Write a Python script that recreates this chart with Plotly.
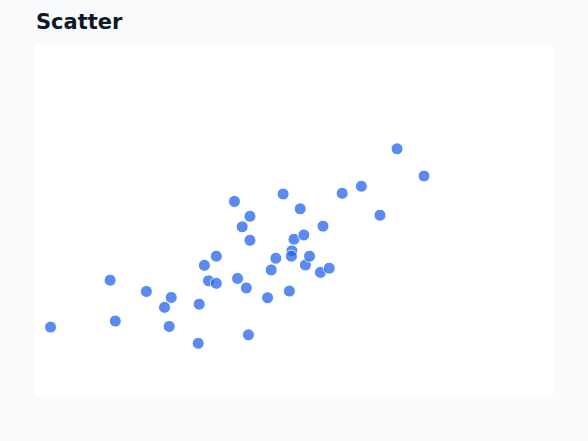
import plotly.graph_objects as go

# point positions (axes hidden, range 0-10 both ways)
x_vals = [0.30, 1.45, 1.55, 2.15, 2.50, 2.63, 2.59, 3.15, 3.17, 3.27,
          3.35, 3.50, 3.50, 3.85, 3.91, 4.00, 4.08, 4.12, 4.15, 4.15,
          4.49, 4.56, 4.65, 4.79, 4.91, 4.96, 4.95, 5.00, 5.12, 5.19,
          5.22, 5.30, 5.51, 5.56, 5.68, 5.93, 6.30, 6.66, 6.99, 7.51]
y_vals = [1.98, 3.31, 2.15, 2.99, 2.54, 2.82, 2.00, 1.52, 2.63, 3.73,
          3.29, 3.22, 3.99, 5.54, 3.36, 4.82, 3.09, 1.76, 5.12, 4.44,
          2.81, 3.60, 3.93, 5.75, 3.00, 4.14, 3.99, 4.47, 5.33, 4.59,
          3.74, 3.99, 3.53, 4.84, 3.65, 5.77, 5.97, 5.15, 7.03, 6.26]

fig = go.Figure(
    go.Scatter(
        x=x_vals,
        y=y_vals,
        mode="markers",
        marker=dict(color="#2563eb", opacity=0.75, size=12,
                    line=dict(color="white", width=1)),
        hoverinfo="x+y",
    )
)

fig.update_layout(
    width=588,
    height=441,
    margin=dict(l=35, r=35, t=44, b=44),
    paper_bgcolor="#f8fafc",
    plot_bgcolor="#ffffff",
    showlegend=False,
    font=dict(family="DejaVu Sans"),
    title=dict(
        text="<b>Scatter</b>",
        font=dict(size=21, color="#0f172a", family="DejaVu Sans"),
        xref="container", x=36 / 588, xanchor="left",
        yref="container", y=1 - 22 / 441, yanchor="middle",
    ),
)
fig.update_xaxes(range=[0, 10], visible=False)
fig.update_yaxes(range=[0, 10], visible=False)

# drop the browser's default body margin so the figure sits at the page corner
fig.write_html(
    "out.html",
    config={"displayModeBar": False},
    post_script="document.body.style.margin='0';document.body.style.overflow='hidden';",
)
